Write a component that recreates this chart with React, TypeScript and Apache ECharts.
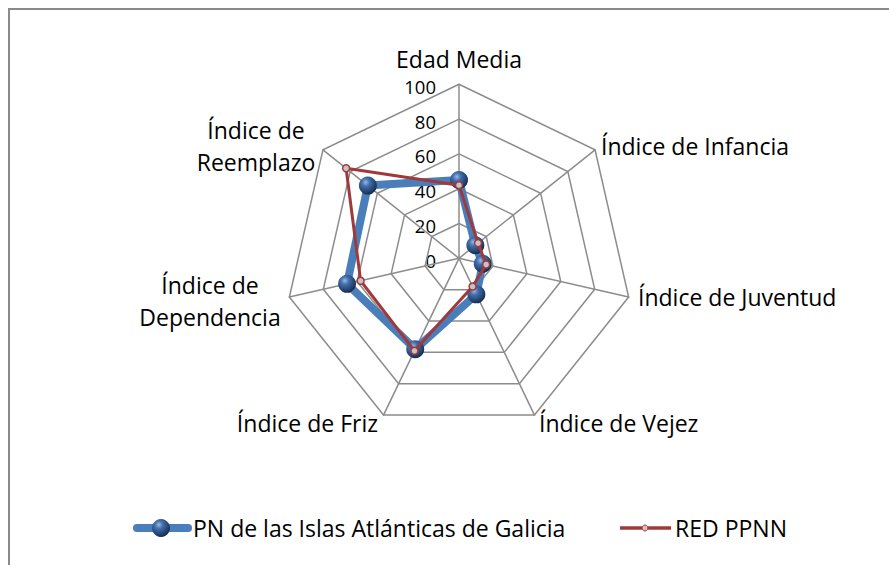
import React, { useEffect, useRef } from "react";
import * as echarts from "echarts";

// ---- data ----
const CATEGORIES = [
  "Edad Media",
  "Índice de Infancia",
  "Índice de Juventud",
  "Índice de Vejez",
  "Índice de Friz",
  "Índice de\nDependencia",
  "Índice de\nReemplazo",
];
const PN_VALUES = [45, 12, 14, 23, 58, 66, 67];
const RED_VALUES = [42, 14, 16, 18, 59, 58, 83];
const TICKS = [0, 20, 40, 60, 80, 100];
const SERIES_NAMES = ["PN de las Islas Atlánticas de Galicia", "RED PPNN"];
const MAX_VALUE = 100;

// ---- layout ----
const CX = 459;
const CY = 258.3;
const R = 174;
const FONT = '"Open Sans", "Noto Sans", sans-serif';
const NAME_SIZE = 23;
const GRID = "#8c8c8c";
const BLUE = "#4A7EBB";
const RED = "#A0393A";

// label anchors (caps middle), alignment per category index
const LABEL_LAYOUT = [
  { x: 459, y: 59, align: "center" },
  { x: 601, y: 146, align: "left" },
  { x: 638, y: 297, align: "left" },
  { x: 539, y: 423, align: "left" },
  { x: 378, y: 423, align: "right" },
  { x: 210, y: 301, align: "center" },
  { x: 256, y: 146, align: "center" },
];

// ECharts radar runs counter-clockwise; reference runs clockwise
const ORDER = CATEGORIES.map((_, i) => (i === 0 ? 0 : CATEGORIES.length - i));

function sphere() {
  return new echarts.graphic.RadialGradient(0.38, 0.32, 0.72, [
    { offset: 0, color: "#9DB8E0" },
    { offset: 0.3, color: "#4470AE" },
    { offset: 1, color: "#112848" },
  ]);
}

export default function App() {
  const ref = useRef<HTMLDivElement>(null);
  useEffect(() => {
    if (!ref.current) return;
    const chart = echarts.init(ref.current, null, { renderer: "svg" });

    const graphic: any[] = [];
    // frame
    graphic.push({
      type: "line",
      shape: { x1: 8, y1: 9, x2: 889, y2: 9 },
      style: { stroke: "#8a8a8a", lineWidth: 2 },
    });
    graphic.push({
      type: "line",
      shape: { x1: 9, y1: 8, x2: 9, y2: 565 },
      style: { stroke: "#8a8a8a", lineWidth: 2 },
    });
    // tick labels
    TICKS.forEach((t) => {
      graphic.push({
        type: "text",
        x: CX - 23,
        y: CY - (R * t) / MAX_VALUE + 2,
        style: {
          text: String(t),
          fill: "#000",
          font: `18.5px ${FONT}`,
          textAlign: "right",
          textVerticalAlign: "middle",
        },
      });
    });
    // category names
    CATEGORIES.forEach((c, i) => {
      const l = LABEL_LAYOUT[i];
      graphic.push({
        type: "text",
        x: l.x,
        y: l.y,
        style: {
          text: c,
          fill: "#000",
          font: `${NAME_SIZE}px ${FONT}`,
          lineHeight: 32,
          textAlign: l.align,
          textVerticalAlign: "middle",
        },
      });
    });
    // legend
    const LY = 528;
    graphic.push({
      type: "line",
      shape: { x1: 137, y1: LY, x2: 188, y2: LY },
      style: { stroke: BLUE, lineWidth: 8, lineCap: "round" },
    });
    graphic.push({
      type: "circle",
      shape: { cx: 161, cy: LY, r: 9 },
      style: { fill: sphere() },
    });
    graphic.push({
      type: "text",
      x: 193,
      y: LY,
      style: {
        text: SERIES_NAMES[0],
        fill: "#000",
        font: `${NAME_SIZE}px ${FONT}`,
        textAlign: "left",
        textVerticalAlign: "middle",
      },
    });
    graphic.push({
      type: "line",
      shape: { x1: 620, y1: LY, x2: 671, y2: LY },
      style: { stroke: RED, lineWidth: 3.5 },
    });
    graphic.push({
      type: "circle",
      shape: { cx: 645, cy: LY, r: 3 },
      style: { fill: "#C4C4C4", stroke: RED, lineWidth: 1 },
    });
    graphic.push({
      type: "text",
      x: 675,
      y: LY,
      style: {
        text: SERIES_NAMES[1],
        fill: "#000",
        font: `${NAME_SIZE}px ${FONT}`,
        textAlign: "left",
        textVerticalAlign: "middle",
      },
    });

    chart.setOption({
      animation: false,
      backgroundColor: "#fff",
      radar: {
        center: [CX, CY],
        radius: R,
        startAngle: 90,
        shape: "polygon",
        splitNumber: 5,
        indicator: ORDER.map((i) => ({
          name: CATEGORIES[i],
          min: 0,
          max: MAX_VALUE,
        })),
        axisName: { show: false },
        axisLine: { lineStyle: { color: GRID, width: 1.5 } },
        splitLine: { lineStyle: { color: GRID, width: 1.5 } },
        splitArea: { show: false },
        axisTick: { show: false },
        axisLabel: { show: false },
      },
      series: [
        {
          type: "radar",
          data: [
            {
              name: SERIES_NAMES[0],
              value: ORDER.map((i) => PN_VALUES[i]),
              symbol: "circle",
              symbolSize: 18,
              itemStyle: { color: sphere() },
              lineStyle: { color: BLUE, width: 8, join: "round" },
            },
          ],
          z: 2,
        },
        {
          type: "radar",
          data: [
            {
              name: SERIES_NAMES[1],
              value: ORDER.map((i) => RED_VALUES[i]),
              symbol: "circle",
              symbolSize: 7,
              itemStyle: { color: "#C4C4C4", borderColor: RED, borderWidth: 1.5 },
              lineStyle: { color: RED, width: 3 },
            },
          ],
          z: 3,
        },
      ],
      graphic,
    });
    return () => chart.dispose();
  }, []);
  return (
    <div
      ref={ref}
      style={{
        position: "fixed",
        left: 0,
        top: 0,
        width: 889,
        height: 565,
        background: "#fff",
      }}
    />
  );
}
